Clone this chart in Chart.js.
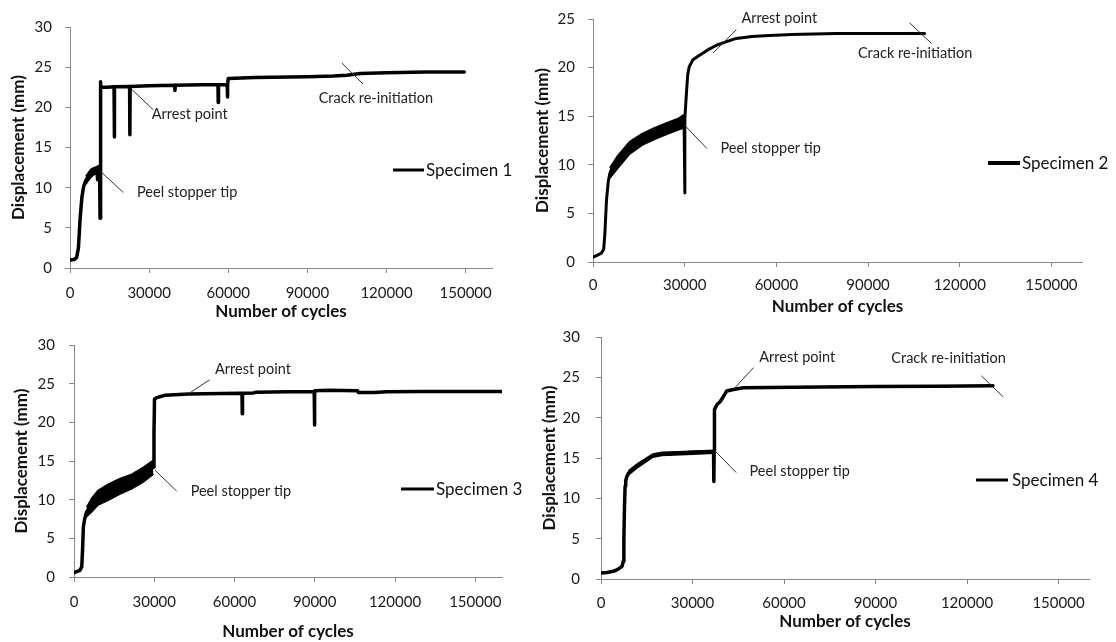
<!DOCTYPE html>
<html><head><meta charset="utf-8">
<script src="https://cdn.jsdelivr.net/npm/chart.js@4.4.0/dist/chart.umd.min.js"></script>
<style>
html,body{margin:0;padding:0;background:#fff;width:1116px;height:642px;overflow:hidden;}
canvas{position:absolute;}
</style></head><body>
<canvas id="c1" width="540" height="322" style="left:0;top:0"></canvas>
<canvas id="c2" width="596" height="322" style="left:520px;top:0"></canvas>
<canvas id="c3" width="540" height="320" style="left:0;top:322px"></canvas>
<canvas id="c4" width="586" height="320" style="left:530px;top:322px"></canvas>
<script>
// ---------- tick labels ----------
const xTicks = [0, 30000, 60000, 90000, 120000, 150000];
const yTicks30 = [0, 5, 10, 15, 20, 25, 30];
const yTicks25 = [0, 5, 10, 15, 20, 25];
const xTitle = 'Number of cycles';
const yTitle = 'Displacement (mm)';
const seriesNames = ['Specimen 1', 'Specimen 2', 'Specimen 3', 'Specimen 4'];

// ---------- Specimen 1 ----------
const s1Cycles = [0,1500,2500,3200,3800,4500,5200,6000,7000,8500,10000,10300,10400,10500,11200,11400,11450,11550,11650,11750,12000,14000,16700,16800,16900,22600,22700,22800,30000,39700,39800,39900,50000,56100,56200,56300,59600,59700,59800,60000,70000,90000,100000,105000,110000,120000,135000,149500];
const s1Disp   = [1.0,1.05,1.3,2.5,6.0,8.8,10.2,10.9,11.4,11.8,12.1,12.2,11.0,12.2,12.4,6.2,12.5,23.2,17.8,22.4,22.5,22.5,22.55,16.3,22.55,22.6,16.6,22.6,22.7,22.75,22.1,22.75,22.8,22.8,20.6,22.8,22.8,21.3,22.8,23.6,23.7,23.8,23.9,24.0,24.2,24.3,24.4,24.4];
const s1BandCycles = [6000,7000,8000,9000,10000,11200];
const s1BandUpper  = [11.4,11.9,12.3,12.5,12.6,12.8];
const s1BandLower  = [10.4,10.9,11.3,11.6,11.7,11.9];

// ---------- Specimen 2 ----------
const s2Cycles = [0,1500,2700,3500,3900,4400,5000,5500,6500,7600,10000,12000,15000,17500,20000,22900,25000,28400,29800,30000,30100,30300,30600,31000,31500,32700,34500,36000,38000,40400,43000,46900,52000,57800,65000,79600,95000,108500];
const s2Disp   = [0.5,0.7,0.9,1.3,3.0,6.3,8.3,9.1,9.9,10.4,11.2,11.8,12.4,12.9,13.3,13.7,14.0,14.4,14.7,7.1,14.8,16.0,17.5,19.3,20.1,20.8,21.2,21.5,21.9,22.3,22.6,23.0,23.2,23.3,23.4,23.5,23.5,23.5];
const s2BandCycles = [5500,8000,12000,16000,20000,24000,28000,30000];
const s2BandUpper  = [9.7,10.9,12.4,13.2,13.8,14.3,14.8,15.2];
const s2BandLower  = [8.6,9.6,11.1,12.0,12.6,13.1,13.6,13.8];

// ---------- Specimen 3 ----------
const s3Cycles = [0,1500,2200,2900,3200,3500,4000,4700,6600,9000,12800,17000,21600,26000,29700,29900,30100,31000,34000,42800,55000,62800,62900,63000,67000,68000,80000,89800,89900,90000,95000,106000,106300,112000,117000,130000,160000];
const s3Disp   = [0.56,0.75,0.86,1.3,3.5,6.5,7.5,8.4,9.3,10.2,11.0,11.7,12.4,13.3,14.2,18.5,23.0,23.2,23.5,23.66,23.72,23.75,21.1,23.75,23.8,23.9,23.95,24.0,19.65,24.1,24.15,24.1,23.85,23.85,23.95,24.0,24.0];
const s3BandCycles = [4700,6600,9000,12800,17000,21600,26000,29700];
const s3BandUpper  = [9.0,10.2,11.2,12.0,12.7,13.3,14.2,15.1];
const s3BandLower  = [7.8,8.4,9.3,9.9,10.7,11.4,12.3,13.3];

// ---------- Specimen 4 ----------
const s4Cycles = [0,2000,4100,5500,6900,7300,7500,7700,7900,8100,8500,9000,10300,11800,13500,15100,16500,17800,20000,24900,30000,36900,37000,37100,37200,38000,39100,40100,41200,43400,46700,63100,90000,110000,128500];
const s4Disp   = [0.74,0.8,0.95,1.2,1.57,2.2,5.0,9.0,11.5,12.2,12.7,13.1,13.6,14.0,14.4,14.8,15.2,15.4,15.5,15.6,15.7,15.8,12.1,15.9,21.0,21.6,22.0,22.6,23.3,23.5,23.7,23.76,23.85,23.9,23.97];
const s4BandCycles = [9000,12000,17000,20000,30000,36900];
const s4BandUpper  = [13.4,14.3,15.5,15.7,15.85,15.95];
const s4BandLower  = [12.9,13.8,15.1,15.3,15.45,15.6];

// ---------- annotation texts ----------
const noteArrest = 'Arrest point';
const notePeel = 'Peel stopper tip';
const noteCrack = 'Crack re-initiation';

const zip = (xs, ys) => xs.map((x, i) => ({x: x, y: ys[i]}));

const overlayPlugin = {
  id: 'overlay',
  afterDatasetsDraw(chart, args, opts) {
    const {ctx} = chart;
    const sx = chart.scales.x, sy = chart.scales.y;
    ctx.save();
    (opts.notes || []).forEach(n => {
      ctx.strokeStyle = '#333';
      ctx.lineWidth = 1;
      ctx.beginPath();
      ctx.moveTo(sx.getPixelForValue(n.line[0]), sy.getPixelForValue(n.line[1]));
      ctx.lineTo(sx.getPixelForValue(n.line[2]), sy.getPixelForValue(n.line[3]));
      ctx.stroke();
      ctx.font = '14.5px Lato';
      ctx.fillStyle = '#222';
      ctx.textAlign = 'left';
      ctx.textBaseline = 'middle';
      ctx.fillText(n.text, sx.getPixelForValue(n.at[0]), sy.getPixelForValue(n.at[1]));
    });
    const lg = opts.legend;
    if (lg) {
      const ds = chart.data.datasets[0];
      ctx.strokeStyle = ds.borderColor;
      ctx.lineWidth = lg.w;
      ctx.beginPath();
      ctx.moveTo(lg.x1, lg.y);
      ctx.lineTo(lg.x2, lg.y);
      ctx.stroke();
      ctx.font = '17px Lato';
      ctx.fillStyle = '#111';
      ctx.textAlign = 'left';
      ctx.textBaseline = 'middle';
      ctx.fillText(ds.label, lg.x2 + lg.gap, lg.y + 1);
    }
    ctx.restore();
  }
};

function makePanel(id, name, cyc, disp, bc, bu, bl, yMax, yTicks, lay, notes) {
  const axisColor = '#888';
  new Chart(document.getElementById(id), {
    type: 'line',
    data: {
      datasets: [
        {label: name, data: zip(cyc, disp), borderColor: '#000', borderWidth: lay.lw, pointRadius: 0, tension: 0, borderJoinStyle: 'round', borderCapStyle: 'round', fill: false},
        {label: 'u', data: zip(bc, bu), borderColor: '#000', borderWidth: 1.5, pointRadius: 0, tension: 0, fill: false},
        {label: 'l', data: zip(bc, bl), borderColor: '#000', borderWidth: 1.5, pointRadius: 0, tension: 0, fill: '-1', backgroundColor: '#000'}
      ]
    },
    options: {
      responsive: false,
      animation: false,
      events: [],
      layout: {padding: {left: 0, right: lay.pr, top: lay.pt, bottom: 0}},
      plugins: {
        legend: {display: false},
        tooltip: {enabled: false},
        overlay: {notes: notes, legend: lay.legend}
      },
      scales: {
        x: {
          type: 'linear', min: 0, max: 160000,
          afterBuildTicks: s => { s.ticks = xTicks.map(v => ({value: v})); },
          afterFit: s => { s.height = lay.xh; s.paddingLeft = 0; s.paddingRight = 0; },
          grid: {drawOnChartArea: false, drawTicks: true, tickLength: 5, color: axisColor},
          border: {color: axisColor, width: 1},
          ticks: {font: {family: 'Lato', size: 15}, color: '#1a1a1a', padding: lay.xtp, maxRotation: 0, autoSkip: false, callback: v => String(v)},
          title: {display: true, text: xTitle, font: {family: 'Lato', size: 17, weight: 'bold'}, color: '#111', padding: {top: 0, bottom: lay.xtb}}
        },
        y: {
          type: 'linear', min: 0, max: yMax,
          afterBuildTicks: s => { s.ticks = yTicks.map(v => ({value: v})); },
          afterFit: s => { s.width = lay.yw; s.paddingTop = 0; s.paddingBottom = 0; },
          grid: {drawOnChartArea: false, drawTicks: true, tickLength: 5, color: axisColor},
          border: {color: axisColor, width: 1},
          ticks: {font: {family: 'Lato', size: 15}, color: '#1a1a1a', padding: lay.ytp, callback: v => String(v)},
          title: {display: true, text: yTitle, font: {family: 'Lato', size: 17, weight: 'bold'}, color: '#111', padding: {top: lay.ytt, bottom: 0}}
        }
      }
    },
    plugins: [overlayPlugin]
  });
}

makePanel('c1', seriesNames[0], s1Cycles, s1Disp, s1BandCycles, s1BandUpper, s1BandLower, 30, yTicks30,
  {lw: 3.5, pr: 48, pt: 27, xh: 54, yw: 70, xtp: 11, xtb: 0, ytp: 13, ytt: 8, legend: {x1: 393, x2: 424, y: 170, w: 3, gap: 2}},
  [{text: noteArrest, at: [31000, 19.1], line: [23360, 22.25, 31560, 19.7]},
   {text: notePeel, at: [25400, 9.46], line: [11360, 12.1, 20200, 9.4]},
   {text: noteCrack, at: [94300, 21.1], line: [103100, 25.5, 111100, 22.9]}]);

makePanel('c2', seriesNames[1], s2Cycles, s2Disp, s2BandCycles, s2BandUpper, s2BandLower, 25, yTicks25,
  {lw: 3, pr: 34, pt: 19, xh: 60, yw: 73, xtp: 9, xtb: 5, ytp: 13, ytt: 12, legend: {x1: 468, x2: 500, y: 163, w: 4, gap: 2}},
  [{text: noteArrest, at: [48550, 25.06], line: [46900, 23.9, 39300, 21.5]},
   {text: notePeel, at: [41700, 11.74], line: [30000, 14.07, 37300, 11.67]},
   {text: noteCrack, at: [86700, 21.45], line: [103600, 24.6, 110700, 22.5]}]);

makePanel('c3', seriesNames[2], s3Cycles, s3Disp, s3BandCycles, s3BandUpper, s3BandLower, 30, yTicks30,
  {lw: 3.5, pr: 38, pt: 23, xh: 65, yw: 74, xtp: 11, xtb: 0, ytp: 14, ytt: 11, legend: {x1: 401, x2: 434, y: 167, w: 3, gap: 2}},
  [{text: noteArrest, at: [52700, 26.9], line: [50700, 25.5, 42600, 23.65]},
   {text: notePeel, at: [43600, 11.14], line: [30300, 13.8, 38400, 11.1]}]);

makePanel('c4', seriesNames[3], s4Cycles, s4Disp, s4BandCycles, s4BandUpper, s4BandLower, 30, yTicks30,
  {lw: 3.5, pr: 27, pt: 15, xh: 63, yw: 71, xtp: 10, xtb: 10, ytp: 16, ytt: 9, legend: {x1: 446, x2: 478, y: 158, w: 3, gap: 4}},
  [{text: noteArrest, at: [51900, 27.5], line: [50000, 26.2, 43400, 23.5]},
   {text: notePeel, at: [48700, 13.35], line: [37100, 16.0, 44300, 13.2]},
   {text: noteCrack, at: [95200, 27.4], line: [124700, 25.2, 131800, 22.6]}]);
</script>
</body></html>
